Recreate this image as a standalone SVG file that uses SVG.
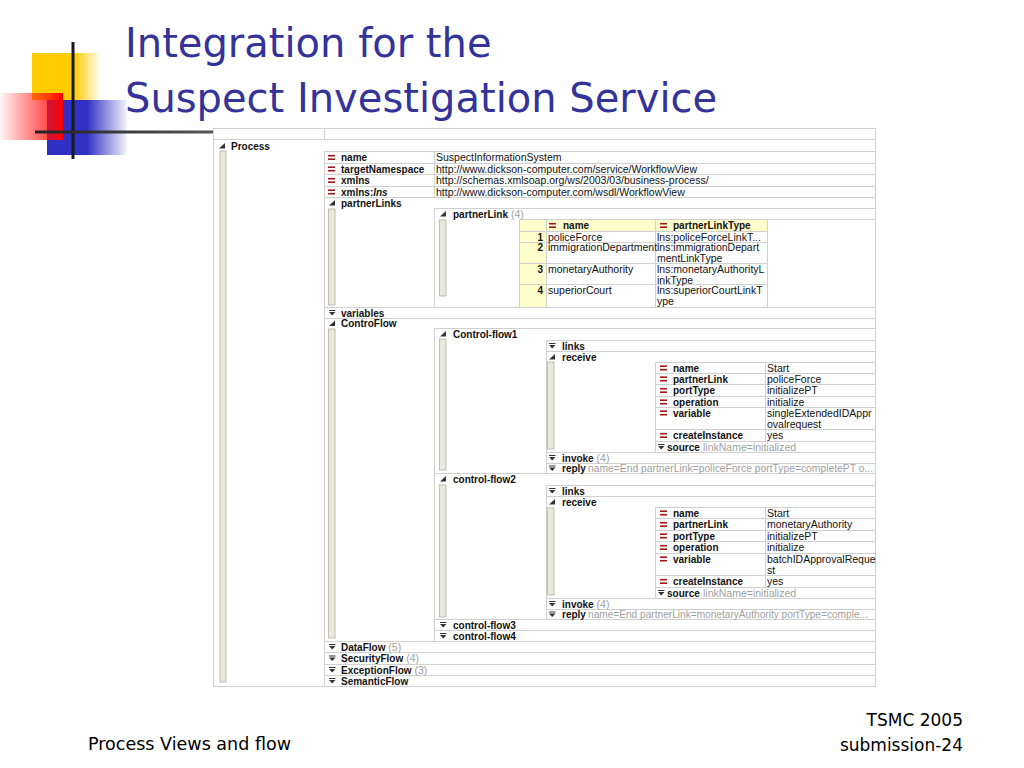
<svg xmlns="http://www.w3.org/2000/svg" xmlns:xlink="http://www.w3.org/1999/xlink" width="1024" height="768" viewBox="0 0 1024 768">
<defs>
<style>
.t{font-family:"DejaVu Sans",Verdana,sans-serif;fill:#333399;font-size:40px}
.f{font-family:"DejaVu Sans",Verdana,sans-serif;fill:#000;font-size:17px}
.b{font-family:"Liberation Sans",Arial,sans-serif;font-size:10px;font-weight:bold;fill:#111}
.v{font-family:"Liberation Sans",Arial,sans-serif;font-size:10.5px;fill:#111}
.q{font-family:"Liberation Sans",Arial,sans-serif;font-size:10.5px;font-weight:normal;fill:#a0a0a0}
.n{font-family:"Liberation Sans",Arial,sans-serif;font-size:10px;font-weight:bold;fill:#111;text-anchor:end}
.gl{stroke:#d0d0d0;stroke-width:1;fill:none}
.bar{fill:#ebe8dc;stroke:#b5b1a3;stroke-width:0.8}
.yl{fill:#ffffcc}
</style>
<linearGradient id="gy" gradientUnits="userSpaceOnUse" x1="32" y1="0" x2="100" y2="0">
<stop offset="0" stop-color="#ffcc00"/><stop offset="0.62" stop-color="#ffcc00"/><stop offset="1" stop-color="#ffcc00" stop-opacity="0.05"/>
</linearGradient>
<linearGradient id="gb" gradientUnits="userSpaceOnUse" x1="47" y1="0" x2="127" y2="0">
<stop offset="0" stop-color="#3030c4"/><stop offset="0.5" stop-color="#3030c4"/><stop offset="1" stop-color="#3030c4" stop-opacity="0.05"/>
</linearGradient>
<linearGradient id="gr" gradientUnits="userSpaceOnUse" x1="0" y1="0" x2="63" y2="0">
<stop offset="0" stop-color="#ff0000" stop-opacity="0.03"/><stop offset="0.7" stop-color="#ff1010" stop-opacity="0.7"/><stop offset="1" stop-color="#ff0000"/>
</linearGradient>
<linearGradient id="gh" gradientUnits="userSpaceOnUse" x1="35" y1="0" x2="213" y2="0">
<stop offset="0" stop-color="#222"/><stop offset="1" stop-color="#555"/>
</linearGradient>
<g id="eq" fill="#a01818"><rect x="0" y="-2.6" width="7" height="1.6"/><rect x="0" y="0.9" width="7" height="1.6"/></g>
<path id="ex" d="M0,2.5 H6 V-3 Z" fill="#333"/>
<path id="co" d="M0,-3 H6.5 V-2 H0 Z M0,-1 H6.5 L3.2,2.5 Z" fill="#333"/>
</defs>
<rect width="1024" height="768" fill="#fff"/>

<g id="logo">
<rect x="32" y="53" width="68" height="47" fill="url(#gy)"/>
<rect x="47" y="100" width="80" height="55" fill="url(#gb)"/>
<rect x="0" y="93" width="63" height="47" fill="url(#gr)"/>
<rect x="71.5" y="42" width="3" height="117" fill="#1a1a1a"/>
<rect x="35" y="130.5" width="178" height="3" fill="url(#gh)"/>
</g>

<g id="title">
<text class="t" x="125" y="57">Integration for the</text>
<text class="t" x="125" y="112">Suspect Investigation Service</text>
</g>

<g id="footer">
<text class="f" x="88" y="750" textLength="203" lengthAdjust="spacingAndGlyphs">Process Views and flow</text>
<text class="f" x="963" y="726" text-anchor="end">TSMC 2005</text>
<text class="f" x="963" y="751" text-anchor="end">submission-24</text>
</g>

<g id="grid">
<rect x="213.5" y="128.5" width="662" height="558" fill="#fff" stroke="#d0d0d0"/>
<rect x="519.5" y="219.5" width="27" height="88" class="yl"/>
<rect x="546.5" y="219.5" width="221" height="12" class="yl"/>
<path class="gl" d="M213.5,139.5H875.5 M324.5,128.5V139.5
M324.5,151.5H875.5 M324.5,163.5H875.5 M324.5,174.5H875.5 M324.5,186.5H875.5 M324.5,197.5H875.5 M324.5,307.5H875.5 M324.5,318.5H875.5 M324.5,641.5H875.5 M324.5,652.5H875.5 M324.5,664.5H875.5 M324.5,675.5H875.5
M324.5,151.5V686.5 M434.5,151.5V197.5
M434.5,208.5H875.5 M434.5,208.5V307.5 M519.5,219.5H875.5
M519.5,231.5H767.5 M519.5,242.5H767.5 M519.5,263.5H767.5 M519.5,284.5H767.5
M519.5,219.5V307.5 M546.5,219.5V307.5 M655.5,219.5V307.5 M767.5,219.5V307.5
M434.5,328.5H875.5 M434.5,328.5V641.5
M546.5,340.5V473.5 M546.5,340.5H875.5 M546.5,351.5H875.5 M546.5,452.5H875.5 M546.5,463.5H875.5 M434.5,473.5H875.5
M655.5,362.5V452.5 M765.5,362.5V441.5 M655.5,362.5H875.5 M655.5,373.5H875.5 M655.5,384.5H875.5 M655.5,396.5H875.5 M655.5,407.5H875.5 M655.5,429.5H875.5 M655.5,441.5H875.5
M546.5,485.5V619.5 M546.5,485.5H875.5 M546.5,496.5H875.5 M546.5,598.5H875.5 M546.5,609.5H875.5 M434.5,619.5H875.5 M434.5,630.5H875.5
M655.5,507.5V598.5 M765.5,507.5V587.5 M655.5,507.5H875.5 M655.5,518.5H875.5 M655.5,530.5H875.5 M655.5,541.5H875.5 M655.5,553.5H875.5 M655.5,575.5H875.5 M655.5,587.5H875.5"/>
<rect class="bar" x="220" y="151" width="6" height="531"/>
<rect class="bar" x="328.5" y="209" width="6.5" height="96"/>
<rect class="bar" x="439.5" y="220" width="6.5" height="76"/>
<rect class="bar" x="328.5" y="329" width="6.5" height="309"/>
<rect class="bar" x="439.5" y="339" width="6.5" height="131"/>
<rect class="bar" x="547.5" y="362" width="6.5" height="87"/>
<rect class="bar" x="439.5" y="485" width="6.5" height="132"/>
<rect class="bar" x="547.5" y="508" width="6.5" height="87"/>
</g>

<g id="process">
<use xlink:href="#ex" x="219" y="146"/>
<text class="b" x="231" y="149.5">Process</text>
<use xlink:href="#eq" x="328" y="157.5"/><text class="b" x="341" y="161">name</text><text class="v" x="436" y="161">SuspectInformationSystem</text>
<use xlink:href="#eq" x="328" y="169"/><text class="b" x="341" y="172.5">targetNamespace</text><text class="v" x="436" y="172.5">http://www.dickson-computer.com/service/WorkflowView</text>
<use xlink:href="#eq" x="328" y="180.5"/><text class="b" x="341" y="184">xmlns</text><text class="v" x="436" y="184">http://schemas.xmlsoap.org/ws/2003/03/business-process/</text>
<use xlink:href="#eq" x="328" y="192"/><text class="b" x="341" y="195.5">xmlns:<tspan font-style="italic">lns</tspan></text><text class="v" x="436" y="195.5">http://www.dickson-computer.com/wsdl/WorkflowView</text>
</g>

<g id="partnerLinks">
<use xlink:href="#ex" x="329" y="203"/><text class="b" x="341" y="206.5">partnerLinks</text>
<use xlink:href="#ex" x="440" y="214"/><text class="b" x="453" y="217.5">partnerLink<tspan class="q"> (4)</tspan></text>
<use xlink:href="#eq" x="549" y="225.5"/><text class="b" x="563" y="229">name</text>
<use xlink:href="#eq" x="660" y="225.5"/><text class="b" x="673" y="229">partnerLinkType</text>
<text class="n" x="543" y="240.5">1</text><text class="v" x="548" y="240.5">policeForce</text><text class="v" x="657" y="240.5">lns:policeForceLinkT...</text>
<text class="n" x="543" y="251">2</text><text class="v" x="548" y="251">immigrationDepartment</text><text class="v" x="657" y="251">lns:immigrationDepart</text><text class="v" x="657" y="261.5">mentLinkType</text>
<text class="n" x="543" y="272.5">3</text><text class="v" x="548" y="272.5">monetaryAuthority</text><text class="v" x="657" y="272.5">lns:monetaryAuthorityL</text><text class="v" x="657" y="283.5">inkType</text>
<text class="n" x="543" y="293.5">4</text><text class="v" x="548" y="293.5">superiorCourt</text><text class="v" x="657" y="293.5">lns:superiorCourtLinkT</text><text class="v" x="657" y="304.5">ype</text>
</g>

<g id="variables">
<use xlink:href="#co" x="329" y="313"/><text class="b" x="341" y="316.5">variables</text>
</g>

<g id="controFlow">
<use xlink:href="#ex" x="329" y="323.5"/><text class="b" x="341" y="327">ControFlow</text>
</g>

<g id="controlFlow1">
<use xlink:href="#ex" x="440" y="334"/><text class="b" x="453" y="337.5">Control-flow1</text>
<use xlink:href="#co" x="549" y="346"/><text class="b" x="562" y="349.5">links</text>
<use xlink:href="#ex" x="549" y="357"/><text class="b" x="562" y="360.5">receive</text>
<use xlink:href="#eq" x="660" y="368"/><text class="b" x="673" y="371.5">name</text><text class="v" x="767" y="371.5">Start</text>
<use xlink:href="#eq" x="660" y="379"/><text class="b" x="673" y="382.5">partnerLink</text><text class="v" x="767" y="382.5">policeForce</text>
<use xlink:href="#eq" x="660" y="390.5"/><text class="b" x="673" y="394">portType</text><text class="v" x="767" y="394">initializePT</text>
<use xlink:href="#eq" x="660" y="402"/><text class="b" x="673" y="405.5">operation</text><text class="v" x="767" y="405.5">initialize</text>
<use xlink:href="#eq" x="660" y="413"/><text class="b" x="673" y="416.5">variable</text><text class="v" x="767" y="416.5">singleExtendedIDAppr</text><text class="v" x="767" y="427.5">ovalrequest</text>
<use xlink:href="#eq" x="660" y="435.5"/><text class="b" x="673" y="439">createInstance</text><text class="v" x="767" y="439">yes</text>
<use xlink:href="#co" x="658" y="447"/><text class="b" x="667" y="450.5">source</text><text class="q" x="703" y="450.5">linkName=initialized</text>
<use xlink:href="#co" x="549" y="458"/><text class="b" x="562" y="461.5">invoke<tspan class="q"> (4)</tspan></text>
<use xlink:href="#co" x="549" y="468.5"/><text class="b" x="562" y="472">reply</text><text class="q" x="588" y="472" textLength="285" lengthAdjust="spacingAndGlyphs">name=End partnerLink=policeForce portType=completePT o...</text>
</g>

<g id="controlFlow2">
<use xlink:href="#ex" x="440" y="479"/><text class="b" x="453" y="482.5">control-flow2</text>
<use xlink:href="#co" x="549" y="491"/><text class="b" x="562" y="494.5">links</text>
<use xlink:href="#ex" x="549" y="502"/><text class="b" x="562" y="505.5">receive</text>
<use xlink:href="#eq" x="660" y="513"/><text class="b" x="673" y="516.5">name</text><text class="v" x="767" y="516.5">Start</text>
<use xlink:href="#eq" x="660" y="524.5"/><text class="b" x="673" y="528">partnerLink</text><text class="v" x="767" y="528">monetaryAuthority</text>
<use xlink:href="#eq" x="660" y="536"/><text class="b" x="673" y="539.5">portType</text><text class="v" x="767" y="539.5">initializePT</text>
<use xlink:href="#eq" x="660" y="547.5"/><text class="b" x="673" y="551">operation</text><text class="v" x="767" y="551">initialize</text>
<use xlink:href="#eq" x="660" y="559"/><text class="b" x="673" y="562.5">variable</text><text class="v" x="767" y="562.5">batchIDApprovalReque</text><text class="v" x="767" y="573.5">st</text>
<use xlink:href="#eq" x="660" y="581.5"/><text class="b" x="673" y="585">createInstance</text><text class="v" x="767" y="585">yes</text>
<use xlink:href="#co" x="658" y="593"/><text class="b" x="667" y="596.5">source</text><text class="q" x="703" y="596.5">linkName=initialized</text>
<use xlink:href="#co" x="549" y="604"/><text class="b" x="562" y="607.5">invoke<tspan class="q"> (4)</tspan></text>
<use xlink:href="#co" x="549" y="614.5"/><text class="b" x="562" y="618">reply</text><text class="q" x="588" y="618" textLength="280" lengthAdjust="spacingAndGlyphs">name=End partnerLink=monetaryAuthority portType=comple...</text>
</g>

<g id="controlFlow34">
<use xlink:href="#co" x="440" y="625"/><text class="b" x="453" y="628.5">control-flow3</text>
<use xlink:href="#co" x="440" y="636"/><text class="b" x="453" y="639.5">control-flow4</text>
</g>

<g id="otherFlows">
<use xlink:href="#co" x="329" y="647"/><text class="b" x="341" y="650.5">DataFlow<tspan class="q"> (5)</tspan></text>
<use xlink:href="#co" x="329" y="658.5"/><text class="b" x="341" y="662">SecurityFlow<tspan class="q"> (4)</tspan></text>
<use xlink:href="#co" x="329" y="670"/><text class="b" x="341" y="673.5">ExceptionFlow<tspan class="q"> (3)</tspan></text>
<use xlink:href="#co" x="329" y="681"/><text class="b" x="341" y="684.5">SemanticFlow</text>
</g>
</svg>
